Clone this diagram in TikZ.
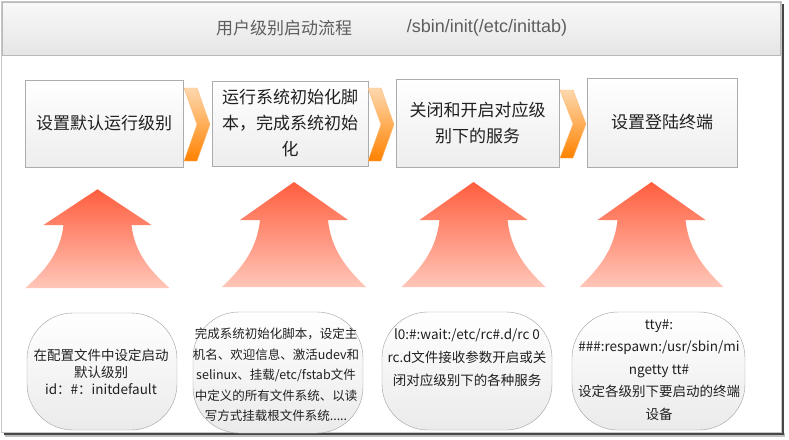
\documentclass[tikz,border=0pt]{standalone}
\usepackage{fontspec}
\setmainfont{Noto Sans CJK SC}
\newfontfamily\latinfont{Liberation Sans}
\definecolor{orgtop}{HTML}{FDD8AE}
\definecolor{orgbot}{HTML}{FF8200}
\definecolor{arrtop}{HTML}{FF5E3E}
\definecolor{arrbot}{HTML}{FFC6B8}
\definecolor{txt}{HTML}{202020}
\definecolor{ttl}{HTML}{5E5E5E}
\begin{document}
\begin{tikzpicture}[x=1pt,y=-1pt,
  topbox/.style={draw=gray!65, top color=white, bottom color=gray!14, align=center,
    font=\fontsize{17}{26}\selectfont, text=txt, inner sep=1pt},
  bubble/.style={draw=gray!75, rounded corners=46pt, top color=white, bottom color=gray!16},
  chev/.style={top color=orgtop, bottom color=orgbot, draw=orange!55, line width=0.4pt},
  btext/.style={align=center, text=txt, inner sep=0pt},
  uparr/.pic={\shade[top color=arrtop, bottom color=arrbot]
    (0,-105) -- (54,-67) -- (34,-67) .. controls (37,-38) and (52,-19) .. (72,0)
    -- (-72,0) .. controls (-52,-19) and (-37,-38) .. (-34,-67) -- (-54,-67) -- cycle;}
]
\useasboundingbox (0,0) rectangle (789,439);
\fill[white] (0,0) rectangle (789,439);
% frame
\fill[black!25] (5,433) rectangle (785,437);
\fill[black!72] (781,4) rectangle (784,435);
\fill[black!72] (4,432) rectangle (784,435);
\draw[gray!45] (1.5,1.5) rectangle (781,432);
% title bar
\shade[top color=white!95!gray, bottom color=gray!20, draw=gray!55] (2,2) rectangle (780,55);
\node[text=ttl, font=\fontsize{17}{20}\selectfont] (title1) at (284,28) {用户级别启动流程};
\node[text=ttl, font=\latinfont\fontsize{18}{20}\selectfont] (title2) at (487,28) {/sbin/init(/etc/inittab)};
% top boxes
\node[topbox, minimum width=158pt, minimum height=87pt] (s1) at (104,123.5) {设置默认运行级别};
\node[topbox, minimum width=156pt, minimum height=85pt] (s2) at (290,123.5) {运行系统初始化脚\\本，完成系统初始\\化};
\node[topbox, minimum width=163pt, minimum height=88pt] (s3) at (477.5,123) {关闭和开启对应级\\别下的服务};
\node[topbox, minimum width=150pt, minimum height=89pt] (s4) at (662,122.5) {设置登陆终端};
% chevrons
\shade[chev] (184,88) -- (197,88) -- (210,124.5) -- (197,161) -- (184,161) -- (197,124.5) -- cycle;
\shade[chev] (368,88) -- (381,88) -- (394,124.5) -- (381,161) -- (368,161) -- (381,124.5) -- cycle;
\shade[chev] (560,90) -- (573,90) -- (586,124) -- (573,158) -- (560,158) -- (573,124) -- cycle;
% up arrows
\pic[yscale=0.94] at (97.5,288) {uparr};
\pic at (294,287) {uparr};
\pic at (473.5,287) {uparr};
\pic at (651.5,287) {uparr};
% bubbles
\node[bubble, minimum width=150pt, minimum height=117pt] (b1) at (102,371.5) {};
\node[bubble, minimum width=170pt, minimum height=121pt] (b2) at (278,372.5) {};
\node[bubble, minimum width=170pt, minimum height=118pt] (b3) at (467,371) {};
\node[bubble, minimum width=173pt, minimum height=118pt] (b4) at (658.5,371) {};
\node[btext, font=\fontsize{13.5}{17}\selectfont] (t1) at (101,371.5) {在配置文件中设定启动\\默认级别\\id：\#：initdefault};
\node[btext, font=\fontsize{12.5}{20.5}\selectfont] (t2) at (276,375) {完成系统初始化脚本，设定主\\机名、欢迎信息、激活udev和\\selinux、挂载/etc/fstab文件\\中定义的所有文件系统、以读\\写方式挂载根文件系统.....};
\node[btext, font=\fontsize{13.5}{23}\selectfont] (t3) at (467,358) {l0:\#:wait:/etc/rc\#.d/rc 0\\rc.d文件接收参数开启或关\\闭对应级别下的各种服务};
\node[btext, font=\fontsize{13.5}{22.5}\selectfont] (t4) at (659,370) {tty\#:\\\#\#\#:respawn:/usr/sbin/mi\\ngetty tt\#\\设定各级别下要启动的终端\\设备};
\end{tikzpicture}
\end{document}
